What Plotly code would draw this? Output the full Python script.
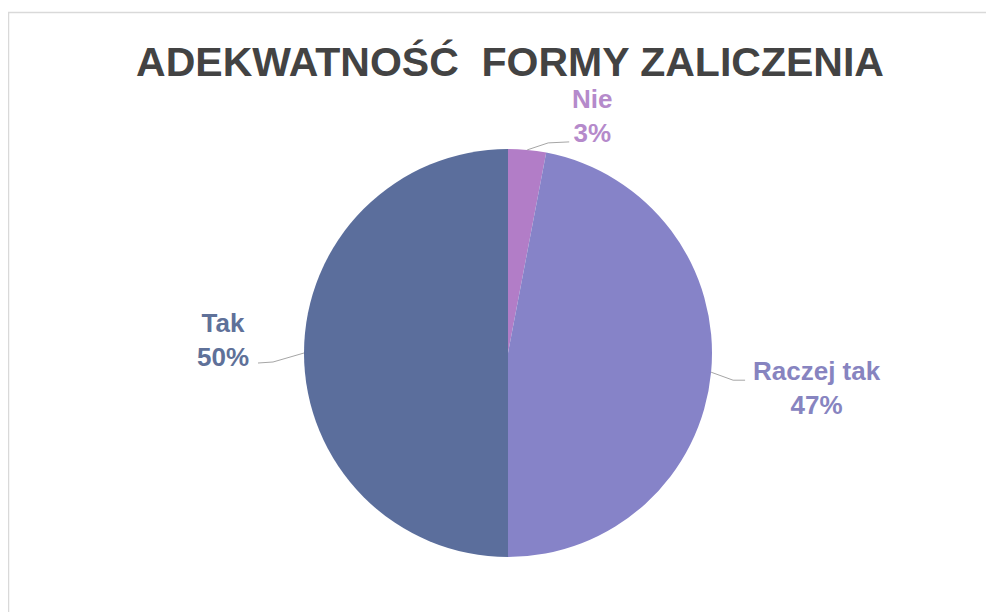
import math
import plotly.graph_objects as go

# the page body has an 8px margin, so the figure is drawn 8px in
PAGE_OFF = 8
W, H = 994 - PAGE_OFF, 612 - PAGE_OFF

labels = ["Nie", "Raczej tak", "Tak"]
values = [3, 47, 50]
slice_colors = ["#B27DC7", "#8683C8", "#5B6E9C"]
label_colors = ["#B58ACB", "#8784C0", "#5F7199"]

# pie placement in window pixels
cx, cy, R = 508 - PAGE_OFF, 353 - PAGE_OFF, 204

# label centre offsets from slice edge (px) and leader elbow offsets
label_offsets = [(65, -34), (106, 16), (-81, -13)]
leader_mid = [(21, -7), (22, 8), (-31, 9)]
leader_end = [(42, -8), (34, 8), (-46, 10)]


def px(x, y):
    return x / W, 1 - y / H


fig = go.Figure()
fig.add_trace(go.Pie(
    labels=labels, values=values,
    sort=False, direction="clockwise", rotation=0,
    marker=dict(colors=slice_colors, line=dict(width=0)),
    textinfo="none", hoverinfo="label+percent",
    domain=dict(x=[(cx - R) / W, (cx + R) / W],
                y=[1 - (cy + R) / H, 1 - (cy - R) / H]),
    showlegend=False,
))

total = sum(values)
cum = 0
annotations = []
shapes = []
for i, (lab, v) in enumerate(zip(labels, values)):
    mid = (cum + v / 2) / total * 2 * math.pi
    cum += v
    ex = cx + R * math.sin(mid)
    ey = cy - R * math.cos(mid)
    pts = [(ex, ey),
           (ex + leader_mid[i][0], ey + leader_mid[i][1]),
           (ex + leader_end[i][0], ey + leader_end[i][1])]
    for a, b in zip(pts[:-1], pts[1:]):
        x0, y0 = px(*a)
        x1, y1 = px(*b)
        shapes.append(dict(type="line", xref="paper", yref="paper",
                           x0=x0, y0=y0, x1=x1, y1=y1,
                           line=dict(color="#A6A6A6", width=1)))
    lx, ly = px(ex + label_offsets[i][0], ey + label_offsets[i][1])
    pct = round(v / total * 100)
    annotations.append(dict(
        x=lx, y=ly, xref="paper", yref="paper",
        text=f"<b>{lab}<br>{pct}%</b>", showarrow=False,
        xanchor="center", yanchor="middle", align="center",
        font=dict(family="Liberation Sans, Arial", size=26, color=label_colors[i]),
    ))

# chart border
shapes.append(dict(type="rect", xref="paper", yref="paper",
                   x0=0.5 / W, y0=-0.05, x1=1.05, y1=1 - 4.5 / H,
                   line=dict(color="#D9D9D9", width=1.5)))

fig.update_layout(
    width=W, height=H,
    margin=dict(l=0, r=0, t=0, b=0),
    paper_bgcolor="white", plot_bgcolor="white",
    title=dict(text="<b>ADEKWATNOŚĆ&nbsp; FORMY ZALICZENIA</b>",
               x=(510 - PAGE_OFF) / W, xanchor="center",
               y=1 - (62 - PAGE_OFF) / H, yanchor="middle",
               font=dict(family="Liberation Sans, Arial", size=41, color="#434343")),
    annotations=annotations,
    shapes=shapes,
)

fig.write_html("out.html")
